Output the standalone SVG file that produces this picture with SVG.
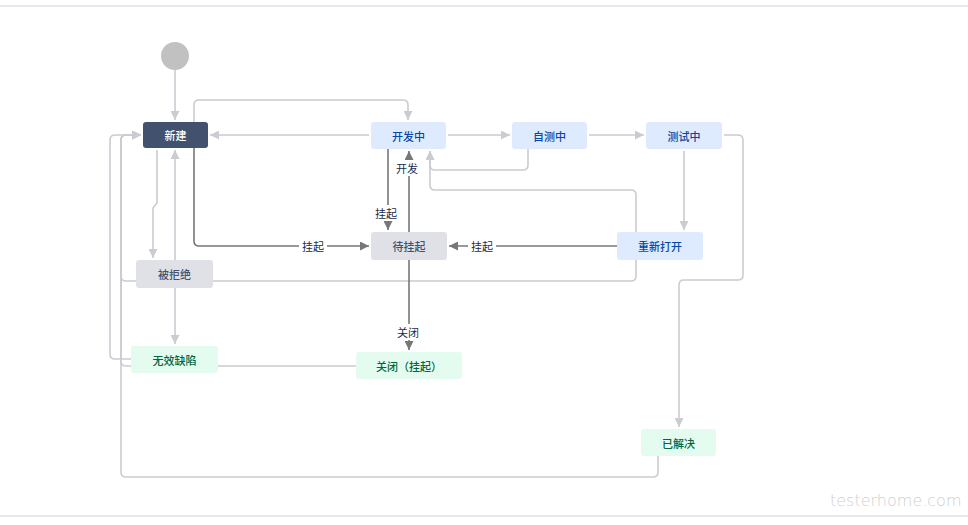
<svg xmlns="http://www.w3.org/2000/svg" width="968" height="525" viewBox="0 0 968 525">
<style>
  .lt{fill:none;stroke:#c9ccd1;stroke-width:1.6}
  .dk{fill:none;stroke:#777;stroke-width:1.6}
  .nt{font-family:"Noto Sans CJK SC","Noto Sans",sans-serif;font-size:11px;font-weight:500;text-anchor:middle;dominant-baseline:central}
  .lb{font-family:"Noto Sans CJK SC","Noto Sans",sans-serif;font-size:11px;fill:#172b4d;text-anchor:middle;dominant-baseline:central}
  .blue rect{fill:#deebff}.blue text{fill:#0747a6}
  .grey rect{fill:#dfe1e6}.grey text{fill:#42526e}
  .green rect{fill:#e3fcef}.green text{fill:#006644}
</style>
<defs>
  <marker id="al" viewBox="0 0 10 10" refX="10" refY="5" markerWidth="9" markerHeight="9" markerUnits="userSpaceOnUse" orient="auto"><path d="M0,0L10,5L0,10z" fill="#c9ccd1"/></marker>
  <marker id="ad" viewBox="0 0 10 10" refX="10" refY="5" markerWidth="9" markerHeight="9" markerUnits="userSpaceOnUse" orient="auto"><path d="M0,0L10,5L0,10z" fill="#777"/></marker>
</defs>
<rect width="968" height="525" fill="#fff"/>
<line x1="0" y1="6" x2="968" y2="6" stroke="#e8e6ee" stroke-width="2"/>
<line x1="0" y1="516" x2="968" y2="516" stroke="#e8e6ee" stroke-width="2"/>
<g id="connectors">
  <path class="lt" d="M175,70V120" marker-end="url(#al)"/>
  <path class="lt" d="M194,122V105Q194,100 199,100H403Q408,100 408,105V120" marker-end="url(#al)"/>
  <path class="lt" d="M369,135H210" marker-end="url(#al)"/>
  <path class="lt" d="M448,135H510" marker-end="url(#al)"/>
  <path class="lt" d="M528,149V165Q528,170 523,170H435Q430,170 430,165V151" marker-end="url(#al)"/>
  <path class="lt" d="M589,135H644" marker-end="url(#al)"/>
  <path class="lt" d="M684,151V230" marker-end="url(#al)"/>
  <path class="lt" d="M724,135H738Q743,135 743,140V275Q743,280 738,280H684Q679,280 679,285V427" marker-end="url(#al)"/>
  <path class="lt" d="M636,232V195Q636,190 631,190H435Q430,190 430,185V151" marker-end="url(#al)"/>
  <path class="lt" d="M636,260V276Q636,281 631,281H126Q121,281 121,276V140Q121,135 126,135H141" marker-end="url(#al)"/>
  <path class="lt" d="M658,456V472Q658,477 653,477H126Q121,477 121,472V140Q121,135 126,135H141" marker-end="url(#al)"/>
  <path class="lt" d="M356,366H126Q121,366 121,361V140Q121,135 126,135H141" marker-end="url(#al)"/>
  <path class="lt" d="M131,359H115Q110,359 110,354V140Q110,135 115,135H141" marker-end="url(#al)"/>
  <path class="lt" d="M157,150V203L153,208V258" marker-end="url(#al)"/>
  <path class="lt" d="M175,260V150" marker-end="url(#al)"/>
  <path class="lt" d="M175,288V344" marker-end="url(#al)"/>
  <path class="dk" d="M194,148V241Q194,246 199,246H369" marker-end="url(#ad)"/>
  <path class="dk" d="M388,149V230" marker-end="url(#ad)"/>
  <path class="dk" d="M409,232V151" marker-end="url(#ad)"/>
  <path class="dk" d="M617,246H449" marker-end="url(#ad)"/>
  <path class="dk" d="M409,260V350" marker-end="url(#ad)"/>
  <rect x="299" y="238" width="28" height="16" fill="#fff"/><text class="lb" x="313" y="246">挂起</text>
  <rect x="372" y="205" width="28" height="16" fill="#fff"/><text class="lb" x="386" y="213">挂起</text>
  <rect x="393" y="160" width="28" height="16" fill="#fff"/><text class="lb" x="407" y="168">开发</text>
  <rect x="468" y="238" width="28" height="16" fill="#fff"/><text class="lb" x="482" y="246">挂起</text>
  <rect x="394" y="324" width="28" height="16" fill="#fff"/><text class="lb" x="408" y="332">关闭</text>
</g>
<g id="start"><circle cx="175" cy="56" r="14" fill="#c1c1c1"/></g>
<g id="n-xinjian"><rect x="143" y="122" width="65" height="26" rx="3" fill="#42526e"/><text class="nt" x="175.5" y="135" fill="#fff" font-weight="700">新建</text></g>
<g id="n-kaifa" class="blue"><rect x="371" y="122" width="75" height="27" rx="3"/><text class="nt" x="408.5" y="135.5">开发中</text></g>
<g id="n-zice" class="blue"><rect x="512" y="122" width="75" height="27" rx="3"/><text class="nt" x="549.5" y="135.5">自测中</text></g>
<g id="n-ceshi" class="blue"><rect x="646" y="122" width="76" height="27" rx="3"/><text class="nt" x="684" y="135.5">测试中</text></g>
<g id="n-daiguaqi" class="grey"><rect x="371" y="232" width="76" height="28" rx="3"/><text class="nt" x="409" y="246">待挂起</text></g>
<g id="n-chongxin" class="blue"><rect x="617" y="232" width="86" height="28" rx="3"/><text class="nt" x="660" y="246">重新打开</text></g>
<g id="n-bejujue" class="grey"><rect x="136" y="260" width="77" height="28" rx="3"/><text class="nt" x="174.5" y="274">被拒绝</text></g>
<g id="n-wuxiao" class="green"><rect x="131" y="346" width="87" height="27" rx="3"/><text class="nt" x="174.5" y="359.5">无效缺陷</text></g>
<g id="n-guanbi" class="green"><rect x="356" y="352" width="106" height="27" rx="3"/><text class="nt" x="409" y="365.5">关闭（挂起）</text></g>
<g id="n-yijiejue" class="green"><rect x="641" y="429" width="75" height="27" rx="3"/><text class="nt" x="678.5" y="442.5">已解决</text></g>
<text x="830" y="506" font-family="DejaVu Sans, sans-serif" font-size="16" font-weight="300" fill="#d0d0d0">testerhome.com</text>
</svg>
